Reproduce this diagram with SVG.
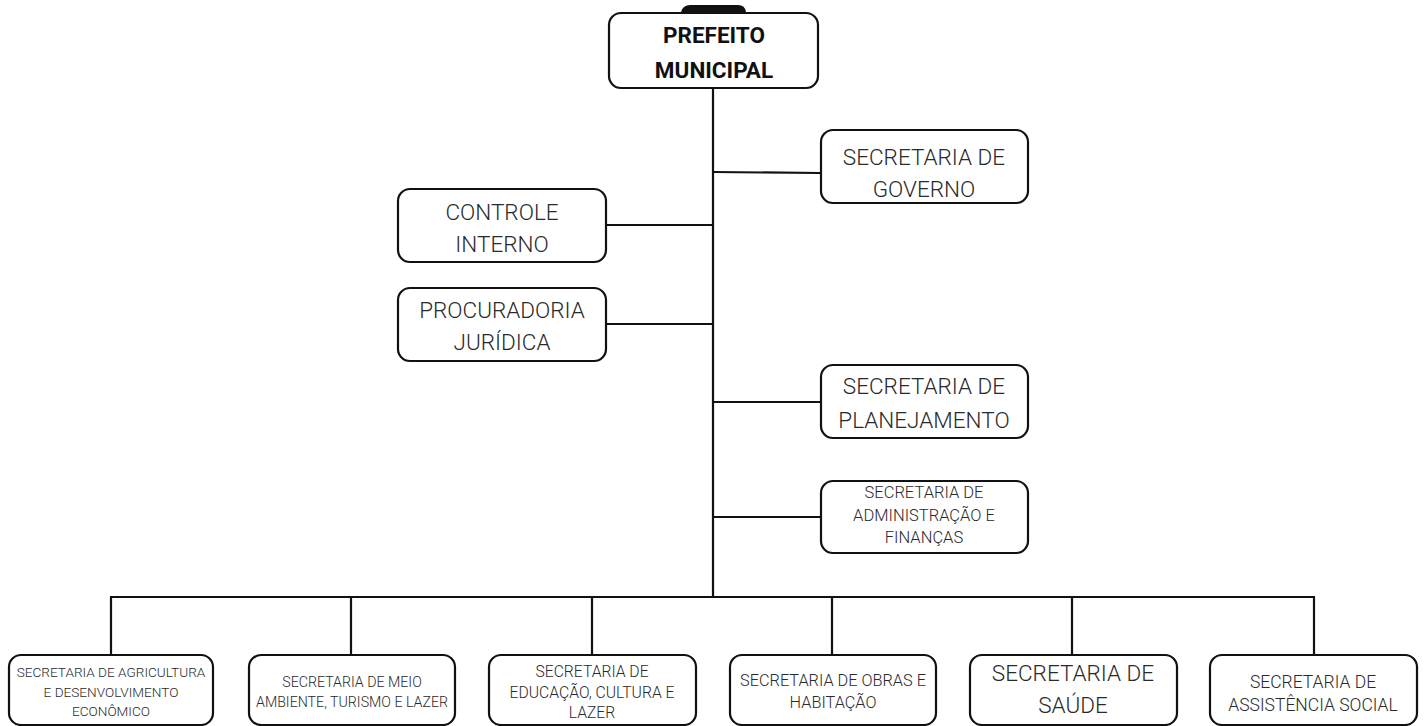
<svg xmlns="http://www.w3.org/2000/svg" width="1426" height="726" viewBox="0 0 1426 726">
<style>
.box{fill:#fff;stroke:#111;stroke-width:2.2}
.ln{stroke:#111;stroke-width:2.2;fill:none}
.t{font-family:Roboto,"Liberation Sans",sans-serif;fill:#2a2a2a;text-anchor:middle;font-weight:300}
.b{font-family:Roboto,"Liberation Sans",sans-serif;fill:#111;text-anchor:middle;font-weight:700;font-size:22.5px}
.m{font-size:22.5px}
</style>
<rect width="1426" height="726" fill="#fff"/>
<g id="connectors">
<line class="ln" x1="713" y1="88" x2="713" y2="598"/>
<line class="ln" x1="713" y1="172" x2="820" y2="173"/>
<line class="ln" x1="606" y1="225" x2="713" y2="225"/>
<line class="ln" x1="606" y1="324" x2="713" y2="324"/>
<line class="ln" x1="713" y1="402" x2="820" y2="402"/>
<line class="ln" x1="713" y1="517" x2="820" y2="517"/>
<line class="ln" x1="110" y1="597" x2="1315" y2="597"/>
<line class="ln" x1="111" y1="597" x2="111" y2="655"/>
<line class="ln" x1="351" y1="597" x2="351" y2="655"/>
<line class="ln" x1="592" y1="597" x2="592" y2="655"/>
<line class="ln" x1="832" y1="597" x2="832" y2="655"/>
<line class="ln" x1="1072" y1="597" x2="1072" y2="655"/>
<line class="ln" x1="1314" y1="597" x2="1314" y2="655"/>
</g>
<g id="prefeito">
<path d="M681 12 Q683 5 690 5 L738 5 Q745 5 746 12 Z" fill="#111"/>
<rect class="box" x="609" y="13" width="209" height="75" rx="12"/>
<text class="b" x="714" y="43">PREFEITO</text>
<text class="b" x="714" y="78">MUNICIPAL</text>
</g>
<g id="sec-governo">
<rect class="box" x="821" y="130" width="207" height="73" rx="12"/>
<text class="t m" x="924" y="165">SECRETARIA DE</text>
<text class="t m" x="924" y="197">GOVERNO</text>
</g>
<g id="controle-interno">
<rect class="box" x="398" y="189" width="208" height="73" rx="12"/>
<text class="t m" x="502" y="220">CONTROLE</text>
<text class="t m" x="502" y="252">INTERNO</text>
</g>
<g id="procuradoria">
<rect class="box" x="398" y="288" width="208" height="73" rx="12"/>
<text class="t m" x="502" y="318">PROCURADORIA</text>
<text class="t m" x="502" y="350">JURÍDICA</text>
</g>
<g id="sec-planejamento">
<rect class="box" x="821" y="365" width="207" height="73" rx="12"/>
<text class="t m" x="924" y="394">SECRETARIA DE</text>
<text class="t m" x="924" y="428">PLANEJAMENTO</text>
</g>
<g id="sec-administracao" font-size="16.5">
<rect class="box" x="821" y="481" width="207" height="72" rx="12"/>
<text class="t" x="924" y="498">SECRETARIA DE</text>
<text class="t" x="924" y="521">ADMINISTRAÇÃO E</text>
<text class="t" x="924" y="543">FINANÇAS</text>
</g>
<g id="sec-agricultura" font-size="13.6">
<rect class="box" x="9" y="655" width="204" height="70" rx="12"/>
<text class="t" x="111" y="677">SECRETARIA DE AGRICULTURA</text>
<text class="t" x="111" y="697">E DESENVOLVIMENTO</text>
<text class="t" x="111" y="716">ECONÔMICO</text>
</g>
<g id="sec-meio-ambiente" font-size="14.2">
<rect class="box" x="249" y="655" width="206" height="70" rx="12"/>
<text class="t" x="352" y="687">SECRETARIA DE MEIO</text>
<text class="t" x="352" y="707">AMBIENTE, TURISMO E LAZER</text>
</g>
<g id="sec-educacao" font-size="15.7">
<rect class="box" x="489" y="655" width="207" height="70" rx="12"/>
<text class="t" x="592" y="677">SECRETARIA DE</text>
<text class="t" x="592" y="698">EDUCAÇÃO, CULTURA E</text>
<text class="t" x="592" y="718">LAZER</text>
</g>
<g id="sec-obras" font-size="16.3">
<rect class="box" x="730" y="655" width="206" height="70" rx="12"/>
<text class="t" x="833" y="686">SECRETARIA DE OBRAS E</text>
<text class="t" x="833" y="708">HABITAÇÃO</text>
</g>
<g id="sec-saude" font-size="22.5">
<rect class="box" x="970" y="655" width="207" height="70" rx="12"/>
<text class="t" x="1073" y="681">SECRETARIA DE</text>
<text class="t" x="1073" y="713">SAÚDE</text>
</g>
<g id="sec-assistencia" font-size="17.5">
<rect class="box" x="1210" y="655" width="207" height="70" rx="12"/>
<text class="t" x="1313" y="688">SECRETARIA DE</text>
<text class="t" x="1313" y="711">ASSISTÊNCIA SOCIAL</text>
</g>
</svg>
